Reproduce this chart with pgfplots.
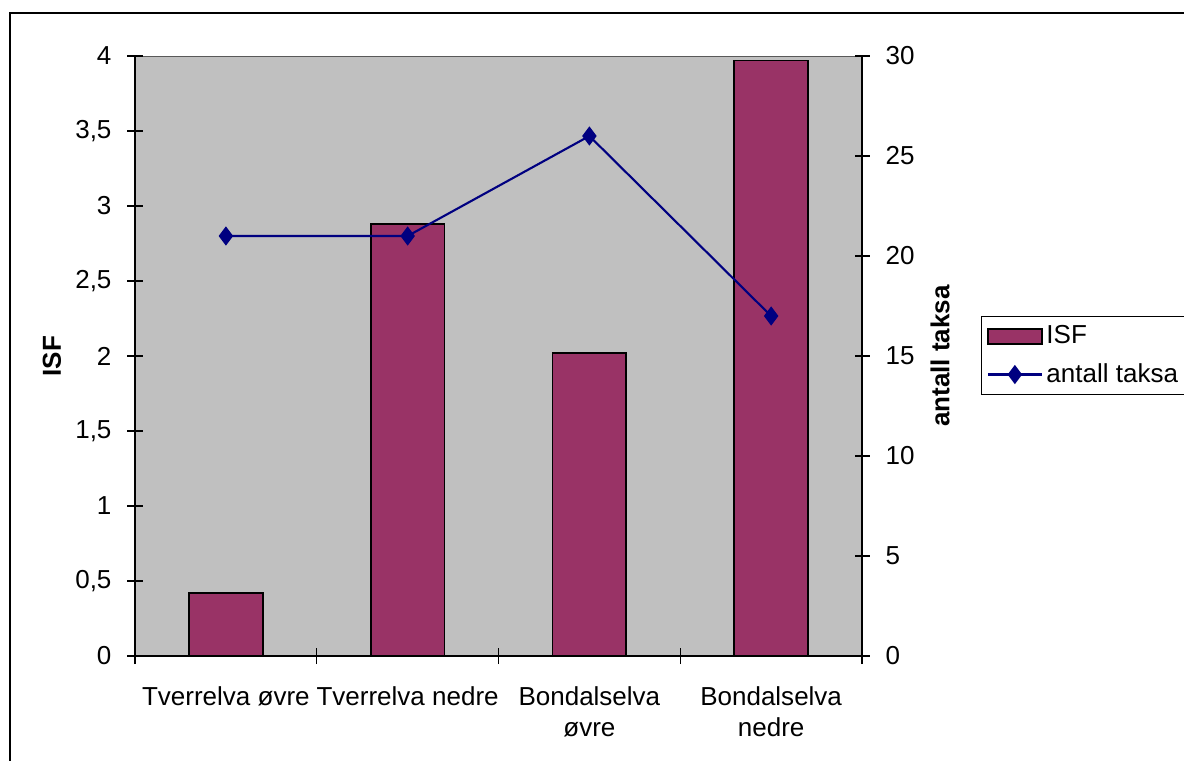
\documentclass[border=0pt]{standalone}
\usepackage{fontspec}
\setmainfont{Liberation Sans}
\usepackage{pgfplots}
\pgfplotsset{compat=1.18}
\definecolor{isf}{HTML}{993366}
\definecolor{taksa}{HTML}{000080}
\definecolor{plotbg}{HTML}{C0C0C0}

% 1 px of the reference = 0.02cm
\pgfplotsset{
  chartbase/.style={
    scale only axis, width=14.54cm, height=12cm,
    at={(2.7cm,2.08cm)}, anchor=south west,
    xmin=-0.5, xmax=3.5,
    tick align=center,
    major tick length=0.3cm,
    minor tick length=0.32cm,
    every tick/.style={black, line width=0.8pt},
    axis line style={line width=0.8pt},
    /pgf/number format/assume math mode=true,
    /pgf/number format/use comma,
  },
}

\begin{document}
\fontsize{14.8}{17.5}\selectfont
\begin{tikzpicture}[font=\fontsize{14.8}{17.5}\selectfont]
\path[use as bounding box] (0cm,0cm) rectangle (23.68cm,15.2cm);
\draw[line width=0.9pt] (0.2cm,-0.1cm) -- (0.2cm,14.94cm) -- (23.8cm,14.94cm);

\begin{axis}[chartbase,
  axis background/.style={fill=plotbg, draw=gray!70!black},
  axis x line*=bottom, axis y line*=left,
  ymin=0, ymax=4, ytick={0,0.5,...,4},
  xtick={0,1,2,3},
  xticklabels={Tverrelva øvre, Tverrelva nedre, {Bondalselva\\øvre}, {Bondalselva\\nedre}},
  major x tick style={draw=none},
  minor xtick={-0.5,0.5,1.5,2.5,3.5},
  xticklabel style={align=center, yshift=-8pt},
  yticklabel style={xshift=-4pt},
  ylabel={\textbf{ISF}},
  ylabel style={at={(axis description cs:0,0.5)}, anchor=center, yshift=1.66cm},
]
\addplot[ybar, bar width=0.405, fill=isf, draw=black, line width=1pt]
  coordinates {(0,0.42) (1,2.88) (2,2.02) (3,3.97)};
\end{axis}

\begin{axis}[chartbase,
  axis y line*=right, axis x line=none,
  ymin=0, ymax=30, ytick={0,5,...,30},
  yticklabel style={xshift=4pt},
  ylabel={\textbf{antall taksa}},
  ylabel style={at={(axis description cs:1,0.5)}, anchor=center, yshift=-1.56cm},
  legend style={at={(axis description cs:1.1637,0.5667)}, anchor=north west,
    draw=black, fill=white, line width=0.6pt, inner xsep=3pt, inner ysep=3pt,
    row sep=5pt, cells={anchor=west}},
  legend image code/.code={
    \draw[mark repeat=2, mark phase=2, #1] plot coordinates {(0cm,0cm) (0.54cm,0cm) (1.08cm,0cm)};},
]
\addlegendimage{legend image code/.code={
  \draw[fill=isf, draw=black, line width=1pt] (0cm,-0.15cm) rectangle (1.08cm,0.15cm);}}
\addlegendentry{ISF}
\addplot[taksa, line width=1.2pt, mark=diamond*, mark size=4.5pt,
  mark options={fill=taksa}]
  coordinates {(0,21) (1,21) (2,26) (3,17)};
\addlegendentry{antall taksa}
\end{axis}
\end{tikzpicture}
\end{document}
